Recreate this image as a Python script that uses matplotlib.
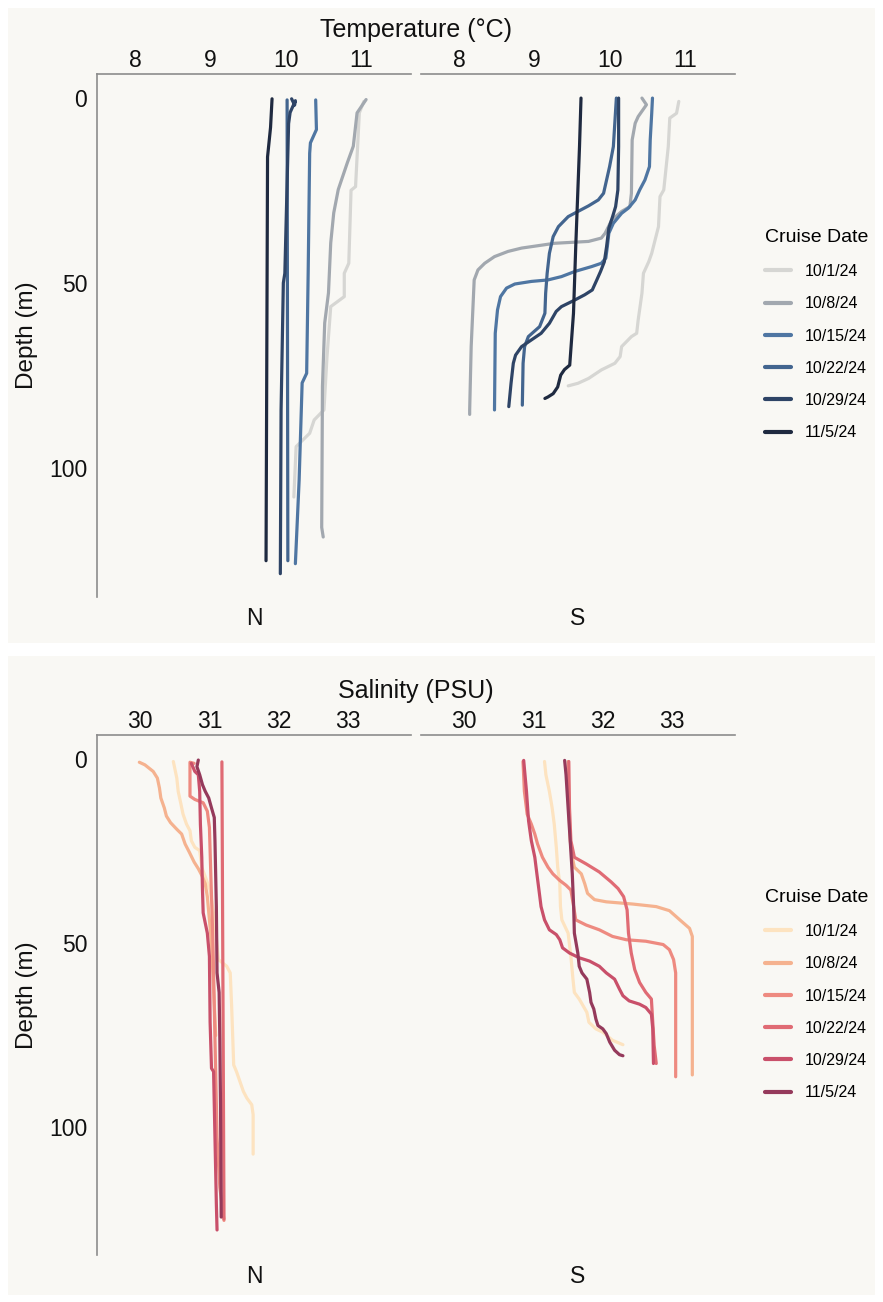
import matplotlib
matplotlib.use("Agg")
import matplotlib.pyplot as plt
from matplotlib.patches import Rectangle

plt.rcParams['font.family'] = ['Liberation Sans', 'DejaVu Sans']

dates = ["10/1/24", "10/8/24", "10/15/24", "10/22/24", "10/29/24", "11/5/24"]
temp_colors = ["#d6d6d3", "#a2a8af", "#4f76a2", "#43658f", "#2e4466", "#1f2a40"]
sal_colors = ["#fde3c0", "#f5b28f", "#ee8a80", "#e06b74", "#c9506a", "#953a5b"]
temp_ticks = [8, 9, 10, 11]
sal_ticks = [30, 31, 32, 33]
depth_ticks = [0, 50, 100]
stations = ["N", "S"]

# ---------------- Temperature, station N ----------------
tN_1001_d = [1.0, 4.1, 24.0, 25.0, 44.7, 47.4, 53.7, 56.4, 70, 84.3, 87.0, 90.6, 94.2, 107.8]
tN_1001_v = [11.04, 10.98, 10.93, 10.87, 10.84, 10.78, 10.78, 10.60, 10.55, 10.51, 10.38, 10.32, 10.14, 10.11]
tN_1008_d = [0.5, 2.0, 4.1, 13.1, 17.6, 21.2, 24.8, 31.1, 39.2, 52.7, 60.8, 77.9, 116, 118.6]
tN_1008_v = [11.07, 11.02, 10.95, 10.90, 10.82, 10.76, 10.70, 10.64, 10.60, 10.57, 10.52, 10.49, 10.48, 10.50]
tN_1015_d = [0.6, 8.6, 12.2, 15.0, 47.4, 74.4, 77.0, 103.2, 125.8]
tN_1015_v = [10.40, 10.41, 10.33, 10.32, 10.30, 10.28, 10.22, 10.18, 10.13]
tN_1022_d = [0.6, 125.0]
tN_1022_v = [10.02, 10.03]
tN_1029_d = [0.3, 2.0, 0.8, 4.0, 7.0, 47.4, 50.0, 84.3, 128.5]
tN_1029_v = [10.08, 10.12, 10.13, 10.06, 10.04, 9.99, 9.97, 9.94, 9.93]
tN_1105_d = [0.3, 8.0, 16.0, 125.0]
tN_1105_v = [9.82, 9.80, 9.76, 9.74]

# ---------------- Temperature, station S ----------------
tS_1001_d = [1.0, 4.2, 5.5, 13.2, 24.9, 26.7, 34.8, 42.0, 44.3, 47.4, 52.8, 60.0, 63.6, 64.5, 67.2, 69.9, 71.7, 73.5, 75.8, 77.1, 77.8]
tS_1001_v = [10.92, 10.89, 10.80, 10.78, 10.72, 10.67, 10.65, 10.56, 10.52, 10.45, 10.43, 10.38, 10.36, 10.29, 10.16, 10.14, 10.07, 9.89, 9.72, 9.58, 9.45]
tS_1008_d = [0.1, 1.9, 5.1, 6.9, 11.4, 25.8, 29.4, 30.7, 33.0, 36.6, 37.9, 38.8, 39.3, 40.6, 41.5, 42.9, 44.7, 46.5, 49.2, 58.2, 67.2, 84.3, 85.5]
tS_1008_v = [10.43, 10.49, 10.38, 10.34, 10.30, 10.29, 10.27, 10.16, 10.03, 9.94, 9.89, 9.72, 9.27, 8.83, 8.65, 8.47, 8.34, 8.25, 8.20, 8.18, 8.16, 8.14, 8.14]
tS_1015_d = [0.1, 4.2, 11.4, 18.6, 22.2, 24.9, 27.6, 29.8, 31.2, 33.9, 36.6, 40.2, 43.3, 44.7, 45.6, 46.9, 48.3, 49.2, 49.6, 50.3, 51.4, 53.7, 57.3, 63.6, 84.3]
tS_1015_v = [10.57, 10.56, 10.54, 10.53, 10.47, 10.40, 10.34, 10.25, 10.16, 10.05, 9.99, 9.97, 9.95, 9.89, 9.76, 9.54, 9.36, 9.18, 8.96, 8.74, 8.63, 8.55, 8.51, 8.48, 8.47]
tS_1022_d = [0.1, 13.2, 18.6, 22.2, 25.8, 27.6, 29.2, 30.7, 32.1, 34.8, 37.5, 42.0, 47.4, 52.8, 58.2, 61.8, 64.5, 67.2, 71.7, 83.0]
tS_1022_v = [10.09, 10.05, 10.00, 9.96, 9.92, 9.85, 9.72, 9.58, 9.45, 9.32, 9.25, 9.20, 9.17, 9.15, 9.14, 9.07, 8.92, 8.87, 8.85, 8.84]
tS_1029_d = [0.1, 13.2, 24.9, 29.4, 32.1, 35.2, 40.2, 44.3, 46.9, 49.2, 51.9, 53.2, 54.8, 56.4, 57.7, 60.9, 63.6, 65.4, 67.2, 69.5, 71.7, 77.1, 83.4]
tS_1029_v = [10.12, 10.12, 10.11, 10.08, 10.04, 9.99, 9.96, 9.93, 9.88, 9.83, 9.77, 9.67, 9.52, 9.36, 9.29, 9.20, 9.09, 8.96, 8.83, 8.75, 8.72, 8.69, 8.66]
tS_1105_d = [0.1, 13.2, 24.0, 40.2, 58.2, 72.2, 73.4, 74.9, 78.1, 79.9, 80.8, 81.2]
tS_1105_v = [9.62, 9.60, 9.58, 9.55, 9.52, 9.47, 9.40, 9.35, 9.31, 9.25, 9.18, 9.14]

# ---------------- Salinity, station N ----------------
sN_1001_d = [0.8, 2.6, 5.3, 8.9, 12.4, 15.1, 17.8, 19.6, 22.3, 24.1, 25.0, 29.5, 33.1, 35.7, 44.7, 54.6, 56.4, 58.2, 67.1, 83.2, 85.0, 87.7, 90.4, 92.2, 94.0, 96.7, 107.4]
sN_1001_v = [30.48, 30.50, 30.53, 30.55, 30.59, 30.62, 30.67, 30.72, 30.74, 30.79, 30.86, 30.89, 30.96, 31.01, 31.08, 31.13, 31.25, 31.30, 31.32, 31.35, 31.39, 31.44, 31.49, 31.54, 31.61, 31.63, 31.63]
sN_1008_d = [1.0, 1.7, 3.5, 5.3, 8.0, 10.7, 13.4, 15.6, 17.4, 19.2, 20.5, 23.2, 25.4, 28.1, 29.9, 31.7, 34.0, 37.5, 50.0, 75.2]
sN_1008_v = [29.99, 30.07, 30.19, 30.25, 30.28, 30.30, 30.35, 30.38, 30.44, 30.53, 30.60, 30.65, 30.71, 30.78, 30.84, 30.89, 30.94, 30.97, 31.03, 31.09]
sN_1015_d = [1.3, 1.0, 10.2, 11.1, 12.0, 14.3, 18.7, 31.3, 49.2, 67.1, 85.0, 102.9, 116.4, 125.4]
sN_1015_v = [30.78, 30.72, 30.72, 30.79, 30.91, 30.97, 31.00, 31.02, 31.05, 31.07, 31.09, 31.11, 31.15, 31.21]
sN_1022_d = [0.9, 125.0]
sN_1022_v = [31.18, 31.21]
sN_1029_d = [1.3, 3.5, 4.4, 8.9, 17.8, 26.8, 35.7, 41.9, 47.4, 53.7, 71.6, 84.1, 85.0, 102.9, 120.9, 128.0]
sN_1029_v = [30.74, 30.79, 30.84, 30.86, 30.87, 30.89, 30.90, 30.91, 30.97, 31.00, 31.01, 31.03, 31.06, 31.08, 31.10, 31.11]
sN_1105_d = [0.4, 2.2, 4.4, 7.1, 8.9, 10.7, 13.4, 16.0, 22.3, 40.2, 58.2, 63.5, 76.1, 94.0, 124.5]
sN_1105_v = [30.84, 30.82, 30.86, 30.90, 30.94, 30.99, 31.03, 31.07, 31.08, 31.10, 31.11, 31.14, 31.15, 31.16, 31.17]

# ---------------- Salinity, station S ----------------
sS_1001_d = [0.8, 4.4, 8.9, 13.4, 17.8, 24.1, 29.5, 34.0, 40.2, 43.8, 47.4, 53.7, 59.9, 63.5, 65.3, 68.9, 71.6, 73.4, 74.3, 76.5, 77.7]
sS_1001_v = [31.16, 31.18, 31.23, 31.27, 31.30, 31.33, 31.35, 31.38, 31.39, 31.41, 31.50, 31.54, 31.57, 31.59, 31.66, 31.77, 31.80, 31.90, 32.00, 32.14, 32.29]
sS_1008_d = [0.8, 13.4, 22.3, 26.8, 29.5, 31.3, 34.0, 36.6, 38.3, 38.9, 39.5, 40.2, 41.3, 43.8, 46.1, 48.3, 85.9]
sS_1008_v = [31.50, 31.51, 31.53, 31.56, 31.59, 31.69, 31.74, 31.78, 31.88, 32.05, 32.43, 32.77, 32.96, 33.11, 33.25, 33.29, 33.29]
sS_1015_d = [0.8, 8.9, 15.1, 17.8, 20.5, 23.2, 26.8, 29.5, 31.3, 33.1, 34.4, 35.7, 40.2, 43.8, 45.2, 46.5, 48.3, 49.2, 49.6, 50.5, 51.9, 54.6, 58.2, 86.4]
sS_1015_v = [30.85, 30.87, 30.91, 30.97, 31.02, 31.06, 31.13, 31.21, 31.28, 31.38, 31.47, 31.54, 31.58, 31.61, 31.76, 31.95, 32.14, 32.34, 32.62, 32.87, 32.96, 33.02, 33.05, 33.05]
sS_1022_d = [0.8, 13.4, 22.3, 26.8, 28.6, 30.8, 33.5, 35.3, 37.5, 41.1, 47.4, 52.8, 57.3, 60.8, 63.5, 65.3, 71.6, 77.9, 82.8]
sS_1022_v = [31.51, 31.52, 31.54, 31.59, 31.76, 31.95, 32.12, 32.22, 32.30, 32.35, 32.37, 32.41, 32.46, 32.53, 32.62, 32.70, 32.72, 32.74, 32.77]
sS_1029_d = [0.5, 8.9, 16.9, 22.3, 26.8, 31.3, 35.7, 40.2, 43.8, 46.5, 47.8, 49.2, 51.4, 52.8, 54.1, 55.0, 56.4, 58.2, 59.9, 62.6, 64.4, 65.8, 66.7, 67.6, 69.4, 73.4, 82.8]
sS_1029_v = [30.86, 30.90, 30.93, 30.97, 31.02, 31.05, 31.08, 31.11, 31.16, 31.23, 31.33, 31.38, 31.42, 31.52, 31.66, 31.81, 31.95, 32.05, 32.17, 32.24, 32.29, 32.38, 32.53, 32.62, 32.70, 32.72, 32.73]
sS_1105_d = [0.5, 4.4, 13.4, 22.3, 31.3, 40.2, 47.4, 52.8, 56.4, 58.2, 59.9, 63.5, 66.2, 68.0, 70.7, 72.5, 73.4, 74.7, 77.0, 79.2, 80.4, 80.7]
sS_1105_v = [31.45, 31.47, 31.50, 31.53, 31.56, 31.58, 31.59, 31.64, 31.66, 31.70, 31.77, 31.81, 31.83, 31.87, 31.90, 31.93, 32.00, 32.05, 32.10, 32.17, 32.24, 32.29]

temp_N = [(tN_1001_d, tN_1001_v), (tN_1008_d, tN_1008_v), (tN_1015_d, tN_1015_v),
          (tN_1022_d, tN_1022_v), (tN_1029_d, tN_1029_v), (tN_1105_d, tN_1105_v)]
temp_S = [(tS_1001_d, tS_1001_v), (tS_1008_d, tS_1008_v), (tS_1015_d, tS_1015_v),
          (tS_1022_d, tS_1022_v), (tS_1029_d, tS_1029_v), (tS_1105_d, tS_1105_v)]
sal_N = [(sN_1001_d, sN_1001_v), (sN_1008_d, sN_1008_v), (sN_1015_d, sN_1015_v),
         (sN_1022_d, sN_1022_v), (sN_1029_d, sN_1029_v), (sN_1105_d, sN_1105_v)]
sal_S = [(sS_1001_d, sS_1001_v), (sS_1008_d, sS_1008_v), (sS_1015_d, sS_1015_v),
         (sS_1022_d, sS_1022_v), (sS_1029_d, sS_1029_v), (sS_1105_d, sS_1105_v)]

W, H = 883, 1302
BG = "#f9f8f4"
SPINE = "#8c8c8c"
TXT = "#111111"
fig = plt.figure(figsize=(W / 100, H / 100), dpi=100)
fig.patch.set_facecolor("white")

def fx(px):
    return px / W

def fy(py):
    return 1 - py / H

# panel backgrounds
fig.patches.append(Rectangle((fx(8), fy(643)), fx(867), 635 / H, transform=fig.transFigure,
                             facecolor=BG, edgecolor="none", zorder=-10))
fig.patches.append(Rectangle((fx(8), fy(1295)), fx(867), 639 / H, transform=fig.transFigure,
                             facecolor=BG, edgecolor="none", zorder=-10))

ylim = (134.8, -6.4)

def make_panel(top_px, bot_px, series_N, series_S, colors, xlim, xticks, xlabel, leg_top_px):
    axes = []
    for i, (left_px, right_px) in enumerate([(97, 411), (421, 735)]):
        ax = fig.add_axes([fx(left_px), fy(bot_px), (right_px - left_px) / W, (bot_px - top_px) / H])
        ax.set_facecolor("none")
        series = series_N if i == 0 else series_S
        lines = []
        for (d, v), c, lab in zip(series, colors, dates):
            ln, = ax.plot(v, d, color=c, lw=2.3, solid_capstyle="round",
                          solid_joinstyle="round", label=lab)
            lines.append(ln)
        ax.set_xlim(*xlim)
        ax.set_ylim(*ylim)
        ax.xaxis.tick_top()
        ax.set_xticks(xticks)
        ax.set_xticklabels([str(t) for t in xticks])
        ax.tick_params(axis="x", length=0, pad=1.5, labelsize=16.5, labelcolor=TXT)
        for s in ["right", "bottom"]:
            ax.spines[s].set_visible(False)
        ax.spines["top"].set_color(SPINE)
        ax.spines["top"].set_linewidth(1.2)
        if i == 0:
            ax.set_yticks(depth_ticks)
            ax.set_yticklabels([str(t) for t in depth_ticks])
            ax.tick_params(axis="y", length=0, pad=7, labelsize=16.5, labelcolor=TXT)
            ax.spines["left"].set_color(SPINE)
            ax.spines["left"].set_linewidth(1.2)
        else:
            ax.set_yticks([])
            ax.spines["left"].set_visible(False)
        ax.text(0.5, -0.041, stations[i], transform=ax.transAxes, ha="center", va="center",
                fontsize=16.5, color=TXT)
        axes.append((ax, lines))
    fig.text(fx(416), fy(top_px - 44), xlabel, ha="center", va="center", fontsize=18, color=TXT)
    fig.text(fx(27), fy((top_px + bot_px) / 2), "Depth (m)", rotation=90, ha="center", va="center",
             fontsize=17.5, color=TXT)
    ax0, lines0 = axes[0]
    leg = fig.legend(handles=lines0, labels=dates, loc="upper left",
                     bbox_to_anchor=(fx(765), fy(leg_top_px)), frameon=False,
                     title="Cruise Date", title_fontsize=14, fontsize=11.5,
                     handlelength=1.6, handletextpad=0.9, labelspacing=1.08,
                     borderpad=0, borderaxespad=0)
    leg._legend_box.align = "left"
    leg._legend_box.sep = 13
    for lh in leg.get_lines():
        lh.set_linewidth(3)
    return axes

make_panel(74, 597, temp_N, temp_S, temp_colors, (7.493, 11.667), temp_ticks, "Temperature (°C)", 229)
make_panel(735, 1255, sal_N, sal_S, sal_colors, (29.38, 33.905), sal_ticks, "Salinity (PSU)", 889)

fig.savefig("out.png", dpi=100, facecolor="white")
